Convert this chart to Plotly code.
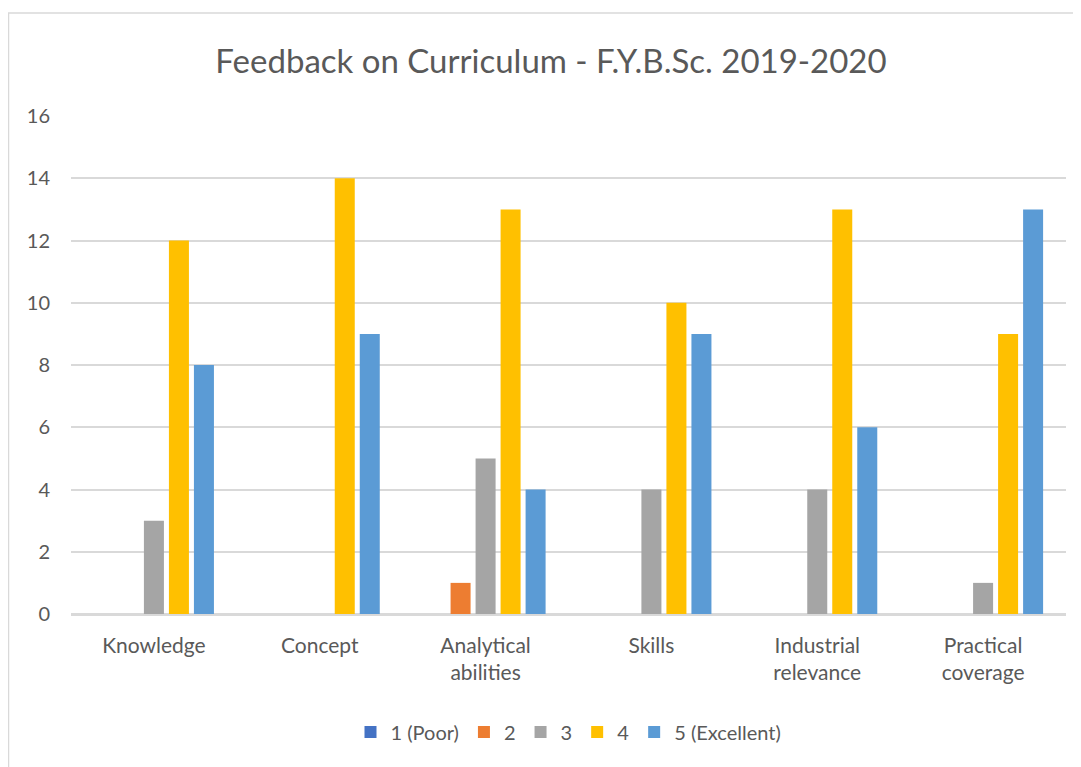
import plotly.graph_objects as go

categories = ["Knowledge", "Concept", "Analytical<br>abilities", "Skills",
              "Industrial<br>relevance", "Practical<br>coverage"]
series_names = ["1 (Poor)", "2", "3", "4", "5 (Excellent)"]
poor = [0, 0, 0, 0, 0, 0]
two = [0, 0, 1, 0, 0, 0]
three = [3, 0, 5, 4, 4, 1]
four = [12, 14, 13, 10, 13, 9]
excellent = [8, 9, 4, 9, 6, 13]
colors = ["#4472C4", "#ED7D31", "#A5A5A5", "#FFC000", "#5B9BD5"]
y_ticks = [0, 2, 4, 6, 8, 10, 12, 14, 16]

OFF = 8  # default body margin of the page
W, H = 1081 - OFF, 767 - OFF
L, R, T, B = 71 - OFF, 15, 116 - OFF, 767 - 614
pw, ph = W - L - R, H - T - B

fig = go.Figure()
for name, vals, col in zip(series_names, [poor, two, three, four, excellent], colors):
    fig.add_trace(go.Bar(x=categories, y=vals, name=name, marker_color=col,
                         marker_line_width=0))

font_family = "Lato, 'Open Sans', sans-serif"
txt = "#595959"

def px_to_paper_x(px):
    return (px - OFF - L) / pw

def px_to_paper_y(py):
    return (H - B - (py - OFF)) / ph

fig.update_layout(
    width=W, height=H,
    margin=dict(l=L, r=R, t=T, b=B, autoexpand=False),
    paper_bgcolor="white", plot_bgcolor="white",
    font=dict(family=font_family, color=txt, size=18),
    title=dict(text="Feedback on Curriculum - F.Y.B.Sc. 2019-2020",
               x=(551 - OFF) / W, xanchor="center", xref="container",
               y=1 - (61 - OFF) / H, yanchor="middle", yref="container",
               font=dict(size=33, color=txt, family=font_family)),
    barmode="group", bargap=0.246, bargroupgap=0.2,
    showlegend=True,
    legend=dict(orientation="h", x=0.5, xanchor="center",
                y=px_to_paper_y(732), yanchor="middle",
                font=dict(size=20, color=txt), itemwidth=30,
                traceorder="normal"),
    xaxis=dict(showgrid=False, showline=True, linecolor="#D9D9D9", linewidth=1.5,
               ticks="", tickfont=dict(size=21, color=txt),
               ticklabelstandoff=12),
    yaxis=dict(range=[0, 16], tickvals=y_ticks, showgrid=True,
               gridcolor="#D9D9D9", gridwidth=1.5, zeroline=True,
               zerolinecolor="#D9D9D9", zerolinewidth=1.5, showline=False,
               ticks="", tickfont=dict(size=20, color=txt),
               ticklabelstandoff=20),
    shapes=[dict(type="rect", xref="paper", yref="paper",
                 x0=px_to_paper_x(8.5), x1=px_to_paper_x(1095),
                 y0=px_to_paper_y(780), y1=px_to_paper_y(13),
                 line=dict(color="#D9D9D9", width=1.5), fillcolor="rgba(0,0,0,0)",
                 layer="below")],
)

fig.write_html("out.html")
